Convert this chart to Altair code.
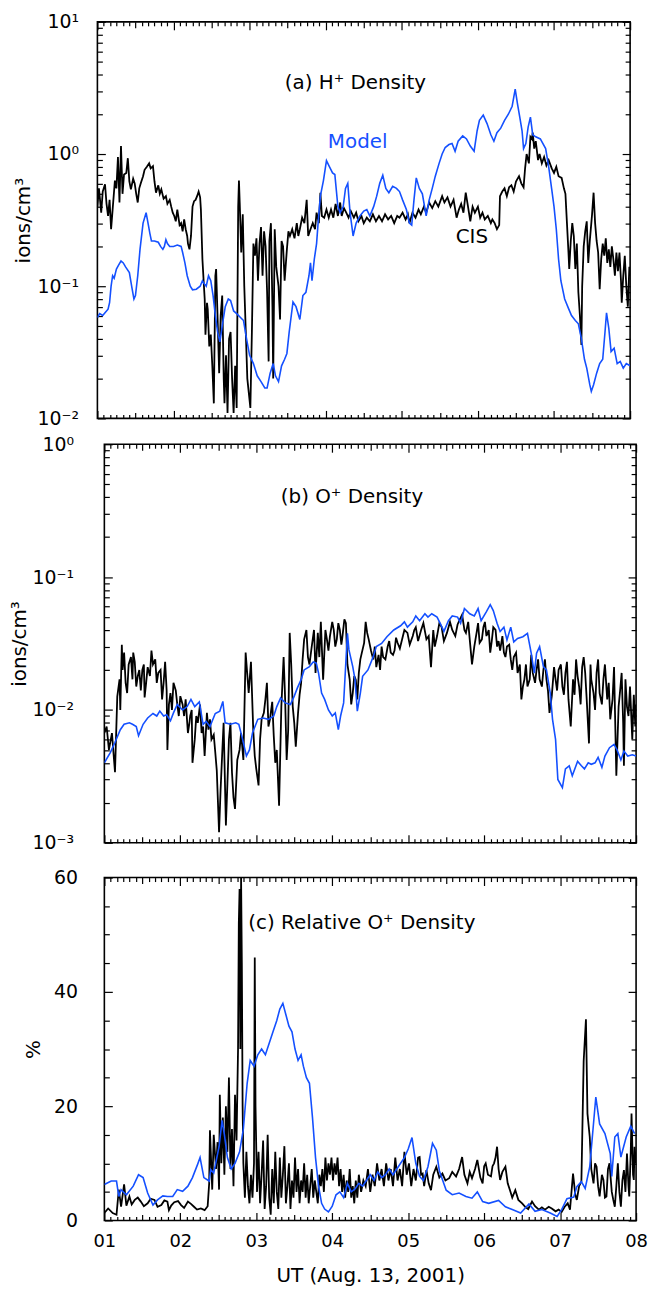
import altair as alt
import pandas as pd

FONT = "DejaVu Sans"
BLUE = "#1450ff"

# ---------------- measurements: (UT hour, value) ----------------
# (a) H+ density, ions/cm^3
h_cis = [
    (1.00, 0.40), (1.02, 0.55), (1.03, 0.48), (1.05, 0.36), (1.07, 0.52), (1.10, 0.59),
    (1.12, 0.42), (1.14, 0.34), (1.16, 0.45), (1.18, 0.27), (1.20, 0.38), (1.23, 0.63),
    (1.25, 0.55), (1.27, 0.95), (1.29, 0.43), (1.31, 1.15), (1.33, 0.50), (1.35, 0.70),
    (1.38, 0.72), (1.40, 0.93), (1.42, 0.62), (1.44, 0.54), (1.47, 0.65), (1.49, 0.60),
    (1.51, 0.50), (1.53, 0.43), (1.55, 0.55), (1.57, 0.60), (1.60, 0.68), (1.62, 0.76),
    (1.65, 0.80), (1.68, 0.85), (1.70, 0.78), (1.73, 0.81), (1.75, 0.62), (1.77, 0.51),
    (1.80, 0.58), (1.82, 0.50), (1.84, 0.54), (1.87, 0.46), (1.90, 0.48), (1.92, 0.42),
    (1.95, 0.45), (1.97, 0.40), (1.99, 0.36), (2.01, 0.34), (2.03, 0.31), (2.05, 0.38),
    (2.08, 0.29), (2.10, 0.30), (2.12, 0.26), (2.14, 0.32), (2.16, 0.27), (2.18, 0.24),
    (2.19, 0.21), (2.21, 0.19), (2.23, 0.24), (2.25, 0.40), (2.27, 0.44), (2.29, 0.45),
    (2.31, 0.48), (2.33, 0.52), (2.35, 0.47), (2.36, 0.38), (2.38, 0.16), (2.40, 0.10),
    (2.41, 0.08), (2.42, 0.043), (2.44, 0.075), (2.45, 0.067), (2.47, 0.035), (2.49, 0.043),
    (2.51, 0.025), (2.53, 0.013), (2.55, 0.12), (2.56, 0.135), (2.58, 0.056), (2.60, 0.022),
    (2.62, 0.06), (2.64, 0.085), (2.66, 0.02), (2.67, 0.013), (2.69, 0.03), (2.71, 0.011),
    (2.73, 0.04), (2.75, 0.045), (2.77, 0.02), (2.79, 0.011), (2.81, 0.025), (2.83, 0.012),
    (2.85, 0.40), (2.86, 0.63), (2.87, 0.43), (2.89, 0.18), (2.91, 0.35), (2.93, 0.10),
    (2.95, 0.045), (2.97, 0.02), (3.01, 0.012), (3.03, 0.045), (3.05, 0.21), (3.07, 0.17),
    (3.09, 0.23), (3.11, 0.11), (3.13, 0.21), (3.15, 0.28), (3.17, 0.12), (3.19, 0.26),
    (3.21, 0.20), (3.23, 0.09), (3.25, 0.027), (3.26, 0.22), (3.28, 0.30), (3.30, 0.07),
    (3.31, 0.02), (3.33, 0.27), (3.35, 0.14), (3.38, 0.10), (3.40, 0.056), (3.42, 0.22),
    (3.44, 0.20), (3.46, 0.11), (3.49, 0.19), (3.51, 0.26), (3.53, 0.24), (3.56, 0.27),
    (3.59, 0.23), (3.62, 0.30), (3.64, 0.24), (3.66, 0.27), (3.69, 0.33), (3.72, 0.30),
    (3.75, 0.45), (3.77, 0.24), (3.80, 0.27), (3.83, 0.30), (3.86, 0.27), (3.88, 0.36),
    (3.91, 0.30), (3.93, 0.51), (3.95, 0.34), (3.98, 0.33), (4.01, 0.38), (4.04, 0.33),
    (4.07, 0.38), (4.10, 0.33), (4.13, 0.42), (4.16, 0.34), (4.19, 0.43), (4.21, 0.34),
    (4.24, 0.39), (4.27, 0.36), (4.30, 0.33), (4.33, 0.37), (4.37, 0.33), (4.40, 0.36),
    (4.43, 0.31), (4.47, 0.34), (4.50, 0.30), (4.54, 0.33), (4.58, 0.31), (4.62, 0.35),
    (4.66, 0.31), (4.70, 0.34), (4.74, 0.31), (4.78, 0.35), (4.82, 0.32), (4.86, 0.34),
    (4.90, 0.30), (4.94, 0.34), (4.97, 0.33), (5.01, 0.36), (5.05, 0.32), (5.08, 0.35),
    (5.10, 0.30), (5.14, 0.36), (5.18, 0.33), (5.22, 0.38), (5.25, 0.35), (5.29, 0.40),
    (5.32, 0.36), (5.36, 0.43), (5.40, 0.39), (5.44, 0.44), (5.48, 0.40), (5.53, 0.48),
    (5.56, 0.43), (5.60, 0.47), (5.64, 0.40), (5.68, 0.45), (5.72, 0.33), (5.75, 0.38),
    (5.78, 0.42), (5.81, 0.36), (5.84, 0.51), (5.87, 0.40), (5.90, 0.31), (5.93, 0.40),
    (5.96, 0.36), (6.00, 0.40), (6.03, 0.33), (6.06, 0.36), (6.09, 0.32), (6.13, 0.34),
    (6.17, 0.30), (6.19, 0.32), (6.22, 0.30), (6.25, 0.27), (6.28, 0.29), (6.29, 0.48),
    (6.32, 0.52), (6.35, 0.55), (6.38, 0.48), (6.41, 0.56), (6.44, 0.58), (6.47, 0.52),
    (6.50, 0.62), (6.54, 0.68), (6.57, 0.60), (6.60, 0.56), (6.62, 0.78), (6.64, 1.00),
    (6.67, 0.85), (6.69, 1.35), (6.71, 1.30), (6.72, 1.45), (6.74, 1.10), (6.76, 1.25),
    (6.79, 0.90), (6.81, 1.00), (6.84, 0.85), (6.87, 0.95), (6.90, 0.82), (6.93, 0.90),
    (6.97, 0.78), (7.00, 0.72), (7.03, 0.80), (7.06, 0.68), (7.10, 0.66), (7.13, 0.55),
    (7.15, 0.50), (7.17, 0.30), (7.19, 0.18), (7.20, 0.135), (7.22, 0.22), (7.24, 0.30),
    (7.26, 0.24), (7.28, 0.135), (7.30, 0.21), (7.32, 0.09), (7.34, 0.06), (7.36, 0.036),
    (7.37, 0.10), (7.39, 0.20), (7.41, 0.26), (7.43, 0.31), (7.45, 0.15), (7.47, 0.22),
    (7.50, 0.35), (7.52, 0.51), (7.54, 0.30), (7.56, 0.22), (7.58, 0.18), (7.60, 0.095),
    (7.62, 0.16), (7.64, 0.21), (7.66, 0.17), (7.68, 0.23), (7.70, 0.15), (7.72, 0.19),
    (7.74, 0.14), (7.76, 0.20), (7.78, 0.16), (7.80, 0.12), (7.82, 0.18), (7.84, 0.13),
    (7.86, 0.18), (7.88, 0.11), (7.89, 0.075), (7.91, 0.12), (7.93, 0.17), (7.95, 0.10),
    (7.97, 0.07), (7.99, 0.14), (8.00, 0.12),
]
h_model = [
    (1.00, 0.058), (1.03, 0.062), (1.07, 0.060), (1.10, 0.063), (1.14, 0.067), (1.16, 0.075),
    (1.18, 0.10), (1.20, 0.12), (1.22, 0.115), (1.25, 0.135), (1.28, 0.145), (1.31, 0.155),
    (1.34, 0.15), (1.37, 0.14), (1.42, 0.127), (1.45, 0.10), (1.48, 0.08), (1.50, 0.085),
    (1.53, 0.12), (1.56, 0.19), (1.60, 0.30), (1.64, 0.36), (1.67, 0.29), (1.69, 0.25),
    (1.71, 0.22), (1.75, 0.22), (1.80, 0.215), (1.83, 0.20), (1.86, 0.19), (1.88, 0.20),
    (1.90, 0.225), (1.92, 0.21), (1.95, 0.20), (2.00, 0.20), (2.05, 0.205), (2.10, 0.20),
    (2.12, 0.18), (2.15, 0.15), (2.18, 0.12), (2.22, 0.10), (2.25, 0.094), (2.30, 0.095),
    (2.35, 0.10), (2.38, 0.11), (2.40, 0.105), (2.43, 0.10), (2.46, 0.12), (2.49, 0.11),
    (2.52, 0.085), (2.55, 0.06), (2.58, 0.045), (2.61, 0.038), (2.64, 0.05), (2.68, 0.07),
    (2.72, 0.08), (2.75, 0.078), (2.79, 0.065), (2.83, 0.062), (2.88, 0.058), (2.92, 0.055),
    (2.96, 0.04), (3.00, 0.03), (3.05, 0.026), (3.10, 0.021), (3.15, 0.019), (3.20, 0.017),
    (3.23, 0.017), (3.27, 0.022), (3.31, 0.026), (3.34, 0.021), (3.38, 0.019), (3.42, 0.025),
    (3.46, 0.028), (3.49, 0.031), (3.52, 0.045), (3.57, 0.076), (3.61, 0.070), (3.66, 0.056),
    (3.70, 0.085), (3.74, 0.09), (3.78, 0.12), (3.80, 0.15), (3.82, 0.11), (3.85, 0.16),
    (3.88, 0.21), (3.90, 0.30), (3.93, 0.48), (3.97, 0.63), (4.01, 0.89), (4.05, 0.80),
    (4.09, 0.72), (4.12, 0.70), (4.16, 0.40), (4.19, 0.36), (4.23, 0.40), (4.26, 0.55),
    (4.29, 0.60), (4.32, 0.36), (4.36, 0.24), (4.40, 0.30), (4.45, 0.34), (4.50, 0.37),
    (4.54, 0.38), (4.58, 0.34), (4.63, 0.40), (4.67, 0.48), (4.71, 0.60), (4.75, 0.69),
    (4.79, 0.55), (4.83, 0.51), (4.88, 0.57), (4.93, 0.55), (4.97, 0.52), (5.01, 0.45),
    (5.06, 0.38), (5.10, 0.30), (5.13, 0.29), (5.16, 0.45), (5.19, 0.66), (5.23, 0.55),
    (5.27, 0.50), (5.32, 0.34), (5.36, 0.45), (5.40, 0.55), (5.44, 0.68), (5.49, 0.85),
    (5.53, 1.00), (5.57, 1.12), (5.62, 1.18), (5.66, 1.20), (5.70, 1.05), (5.74, 1.25),
    (5.80, 1.37), (5.85, 1.30), (5.90, 1.15), (5.95, 1.05), (5.99, 1.50), (6.02, 1.80),
    (6.07, 1.97), (6.12, 1.70), (6.17, 1.40), (6.21, 1.25), (6.25, 1.45), (6.30, 1.57),
    (6.35, 1.80), (6.40, 2.00), (6.45, 2.30), (6.49, 3.10), (6.52, 2.40), (6.55, 1.90),
    (6.58, 1.50), (6.60, 1.10), (6.63, 1.20), (6.66, 1.60), (6.69, 1.90), (6.72, 1.40),
    (6.76, 1.35), (6.82, 1.30), (6.89, 1.10), (6.93, 0.80), (6.97, 0.54), (7.00, 0.40),
    (7.03, 0.27), (7.06, 0.16), (7.09, 0.11), (7.14, 0.08), (7.19, 0.068), (7.23, 0.06),
    (7.28, 0.055), (7.32, 0.052), (7.36, 0.04), (7.40, 0.028), (7.43, 0.024), (7.47, 0.018),
    (7.49, 0.016), (7.52, 0.018), (7.56, 0.022), (7.60, 0.026), (7.64, 0.028), (7.67, 0.045),
    (7.69, 0.063), (7.72, 0.048), (7.75, 0.032), (7.79, 0.034), (7.83, 0.026), (7.87, 0.027),
    (7.91, 0.024), (7.95, 0.026), (8.00, 0.025),
]

# (b) O+ density, ions/cm^3
o_cis = [
    (1.00, 0.0067), (1.03, 0.0075), (1.06, 0.005), (1.10, 0.0067), (1.14, 0.0034), (1.17, 0.0126),
    (1.20, 0.017), (1.21, 0.010), (1.23, 0.031), (1.24, 0.020), (1.26, 0.027), (1.28, 0.016),
    (1.30, 0.0134), (1.32, 0.022), (1.35, 0.025), (1.37, 0.017), (1.38, 0.027), (1.40, 0.023),
    (1.42, 0.015), (1.44, 0.018), (1.46, 0.020), (1.48, 0.014), (1.50, 0.020), (1.52, 0.022),
    (1.53, 0.0124), (1.55, 0.016), (1.57, 0.021), (1.60, 0.018), (1.62, 0.028), (1.64, 0.022),
    (1.67, 0.024), (1.69, 0.016), (1.71, 0.019), (1.74, 0.020), (1.76, 0.012), (1.78, 0.016),
    (1.80, 0.023), (1.82, 0.014), (1.83, 0.005), (1.85, 0.011), (1.87, 0.0134), (1.89, 0.010),
    (1.91, 0.016), (1.94, 0.014), (1.96, 0.011), (1.98, 0.009), (2.00, 0.0127), (2.03, 0.011),
    (2.05, 0.009), (2.07, 0.012), (2.10, 0.0067), (2.12, 0.008), (2.13, 0.009), (2.15, 0.010),
    (2.16, 0.004), (2.19, 0.006), (2.21, 0.009), (2.23, 0.008), (2.26, 0.011), (2.28, 0.0067),
    (2.30, 0.0075), (2.32, 0.0045), (2.35, 0.0095), (2.37, 0.0071), (2.39, 0.0085), (2.41, 0.006),
    (2.44, 0.0065), (2.46, 0.0048), (2.48, 0.0035), (2.51, 0.0012), (2.53, 0.0025), (2.55, 0.0045),
    (2.57, 0.008), (2.60, 0.00135), (2.62, 0.0028), (2.64, 0.006), (2.66, 0.008), (2.68, 0.0034),
    (2.70, 0.0022), (2.72, 0.0018), (2.75, 0.0042), (2.78, 0.005), (2.80, 0.0067), (2.83, 0.0042),
    (2.86, 0.027), (2.88, 0.019), (2.90, 0.0134), (2.93, 0.023), (2.96, 0.0071), (2.98, 0.0045),
    (3.00, 0.0036), (3.03, 0.0027), (3.05, 0.006), (3.07, 0.0085), (3.10, 0.0095), (3.12, 0.012),
    (3.14, 0.016), (3.16, 0.0075), (3.18, 0.0085), (3.21, 0.0115), (3.23, 0.0064), (3.25, 0.004),
    (3.27, 0.005), (3.30, 0.0019), (3.33, 0.0106), (3.36, 0.025), (3.38, 0.012), (3.40, 0.0042),
    (3.42, 0.007), (3.44, 0.038), (3.46, 0.022), (3.48, 0.0106), (3.50, 0.008), (3.52, 0.0053),
    (3.55, 0.0095), (3.57, 0.013), (3.59, 0.0159), (3.61, 0.024), (3.63, 0.034), (3.66, 0.040),
    (3.68, 0.025), (3.70, 0.022), (3.73, 0.030), (3.76, 0.040), (3.78, 0.019), (3.81, 0.038),
    (3.83, 0.025), (3.85, 0.046), (3.88, 0.0169), (3.91, 0.040), (3.93, 0.034), (3.95, 0.028),
    (3.97, 0.036), (4.00, 0.046), (4.02, 0.040), (4.04, 0.030), (4.06, 0.034), (4.08, 0.045),
    (4.10, 0.040), (4.12, 0.031), (4.13, 0.034), (4.16, 0.048), (4.18, 0.045), (4.20, 0.022),
    (4.23, 0.0169), (4.25, 0.011), (4.27, 0.0134), (4.29, 0.018), (4.31, 0.0169), (4.33, 0.012),
    (4.35, 0.019), (4.37, 0.024), (4.39, 0.027), (4.42, 0.032), (4.44, 0.046), (4.46, 0.038),
    (4.48, 0.034), (4.51, 0.028), (4.54, 0.024), (4.56, 0.030), (4.58, 0.021), (4.61, 0.026),
    (4.63, 0.020), (4.65, 0.030), (4.67, 0.025), (4.70, 0.024), (4.73, 0.030), (4.75, 0.033),
    (4.77, 0.027), (4.80, 0.026), (4.82, 0.028), (4.84, 0.035), (4.86, 0.032), (4.89, 0.029),
    (4.92, 0.034), (4.95, 0.040), (4.99, 0.038), (5.02, 0.031), (5.06, 0.036), (5.08, 0.040),
    (5.10, 0.042), (5.13, 0.033), (5.17, 0.040), (5.20, 0.045), (5.24, 0.034), (5.27, 0.036),
    (5.30, 0.021), (5.33, 0.040), (5.35, 0.030), (5.38, 0.036), (5.41, 0.045), (5.44, 0.042),
    (5.47, 0.033), (5.51, 0.038), (5.55, 0.046), (5.58, 0.040), (5.62, 0.036), (5.65, 0.044),
    (5.68, 0.048), (5.71, 0.052), (5.74, 0.040), (5.76, 0.038), (5.79, 0.046), (5.81, 0.034),
    (5.84, 0.022), (5.87, 0.030), (5.90, 0.038), (5.92, 0.045), (5.94, 0.032), (5.97, 0.034),
    (5.99, 0.042), (6.01, 0.046), (6.03, 0.036), (6.06, 0.040), (6.08, 0.027), (6.10, 0.033),
    (6.12, 0.042), (6.15, 0.040), (6.17, 0.030), (6.19, 0.033), (6.21, 0.028), (6.24, 0.036),
    (6.26, 0.027), (6.28, 0.025), (6.30, 0.030), (6.33, 0.031), (6.35, 0.024), (6.37, 0.020),
    (6.39, 0.025), (6.42, 0.027), (6.44, 0.019), (6.47, 0.022), (6.49, 0.012), (6.51, 0.015),
    (6.53, 0.017), (6.55, 0.022), (6.57, 0.015), (6.60, 0.017), (6.62, 0.026), (6.64, 0.019),
    (6.67, 0.016), (6.69, 0.020), (6.71, 0.024), (6.73, 0.017), (6.76, 0.015), (6.78, 0.020),
    (6.80, 0.024), (6.82, 0.017), (6.84, 0.014), (6.86, 0.0095), (6.89, 0.0127), (6.92, 0.021),
    (6.94, 0.017), (6.96, 0.014), (6.98, 0.020), (7.01, 0.022), (7.03, 0.015), (7.05, 0.013),
    (7.07, 0.019), (7.09, 0.023), (7.11, 0.012), (7.14, 0.0075), (7.17, 0.017), (7.19, 0.013),
    (7.21, 0.024), (7.23, 0.018), (7.25, 0.015), (7.27, 0.011), (7.29, 0.021), (7.31, 0.025),
    (7.33, 0.019), (7.35, 0.012), (7.38, 0.0056), (7.40, 0.022), (7.41, 0.017), (7.44, 0.0134),
    (7.46, 0.010), (7.48, 0.019), (7.50, 0.024), (7.52, 0.0134), (7.55, 0.011), (7.57, 0.017),
    (7.59, 0.022), (7.62, 0.012), (7.64, 0.016), (7.66, 0.0085), (7.69, 0.012), (7.71, 0.021),
    (7.74, 0.0032), (7.77, 0.0106), (7.79, 0.014), (7.81, 0.019), (7.83, 0.008), (7.84, 0.0038),
    (7.86, 0.017), (7.88, 0.0106), (7.90, 0.009), (7.92, 0.015), (7.95, 0.0060), (7.97, 0.013),
    (7.99, 0.0075), (8.00, 0.011),
]
o_model = [
    (1.00, 0.0040), (1.08, 0.0048), (1.14, 0.0057), (1.21, 0.0071), (1.26, 0.0078), (1.33, 0.0080),
    (1.37, 0.0078), (1.42, 0.0075), (1.45, 0.0064), (1.51, 0.0078), (1.57, 0.0087), (1.64, 0.0094),
    (1.69, 0.0090), (1.73, 0.0098), (1.78, 0.0090), (1.82, 0.0092), (1.87, 0.0083), (1.91, 0.0095),
    (1.96, 0.0110), (2.03, 0.0100), (2.09, 0.0106), (2.14, 0.0120), (2.19, 0.0106), (2.25, 0.0115),
    (2.30, 0.0078), (2.34, 0.0082), (2.39, 0.0075), (2.46, 0.0094), (2.52, 0.0098), (2.56, 0.0116),
    (2.59, 0.0080), (2.66, 0.0078), (2.73, 0.0080), (2.77, 0.0078), (2.82, 0.0060), (2.87, 0.0045),
    (2.91, 0.0050), (2.95, 0.0067), (3.02, 0.0085), (3.09, 0.0087), (3.16, 0.0085), (3.23, 0.0090),
    (3.27, 0.0106), (3.32, 0.0123), (3.38, 0.0113), (3.45, 0.0110), (3.50, 0.0127), (3.54, 0.0146),
    (3.59, 0.0169), (3.63, 0.0200), (3.70, 0.0212), (3.75, 0.0230), (3.79, 0.0225), (3.82, 0.0189),
    (3.86, 0.0134), (3.90, 0.0120), (3.95, 0.0100), (4.00, 0.0090), (4.04, 0.0095), (4.08, 0.0071),
    (4.11, 0.0090), (4.15, 0.0113), (4.20, 0.0377), (4.22, 0.0283), (4.27, 0.0212), (4.30, 0.0169),
    (4.33, 0.0098), (4.37, 0.0134), (4.40, 0.0179), (4.47, 0.0200), (4.54, 0.0252), (4.58, 0.0300),
    (4.65, 0.0317), (4.72, 0.0356), (4.81, 0.0400), (4.90, 0.0430), (4.95, 0.0460), (4.99, 0.0420),
    (5.06, 0.0460), (5.10, 0.0510), (5.15, 0.0470), (5.22, 0.0530), (5.26, 0.0500), (5.31, 0.0530),
    (5.38, 0.0500), (5.42, 0.0450), (5.47, 0.0390), (5.53, 0.0470), (5.58, 0.0510), (5.65, 0.0500),
    (5.69, 0.0450), (5.74, 0.0580), (5.81, 0.0530), (5.87, 0.0510), (5.92, 0.0580), (5.96, 0.0470),
    (6.03, 0.0550), (6.08, 0.0620), (6.12, 0.0560), (6.17, 0.0450), (6.21, 0.0390), (6.26, 0.0420),
    (6.30, 0.0336), (6.35, 0.0420), (6.39, 0.0325), (6.44, 0.0345), (6.51, 0.0356), (6.57, 0.0377),
    (6.62, 0.0267), (6.66, 0.0189), (6.69, 0.0267), (6.73, 0.0300), (6.78, 0.0212), (6.82, 0.0200),
    (6.87, 0.0134), (6.90, 0.0085), (6.94, 0.0060), (6.97, 0.0030), (7.03, 0.0026), (7.07, 0.0036),
    (7.12, 0.0038), (7.16, 0.0032), (7.23, 0.0041), (7.28, 0.0038), (7.32, 0.0036), (7.37, 0.0040),
    (7.41, 0.0039), (7.46, 0.0040), (7.50, 0.0044), (7.55, 0.0037), (7.59, 0.0045), (7.65, 0.0052),
    (7.71, 0.0055), (7.75, 0.0050), (7.80, 0.0042), (7.84, 0.0049), (7.89, 0.0045), (7.95, 0.0046),
    (8.00, 0.0045),
]

# (c) relative O+ density, %
rel_cis = [
    (1.00, 1.3), (1.05, 2.1), (1.11, 1.3), (1.16, 1.0), (1.19, 5.4), (1.22, 2.4), (1.26, 6.3),
    (1.29, 2.6), (1.33, 4.2), (1.36, 2.8), (1.40, 3.6), (1.44, 4.0), (1.48, 3.3), (1.52, 2.5),
    (1.57, 3.0), (1.61, 3.8), (1.66, 3.6), (1.70, 2.4), (1.75, 2.7), (1.79, 3.5), (1.83, 3.3),
    (1.85, 1.8), (1.88, 2.6), (1.92, 3.2), (1.97, 3.4), (2.01, 2.7), (2.05, 2.2), (2.10, 3.3),
    (2.14, 2.9), (2.18, 2.4), (2.22, 1.9), (2.27, 2.1), (2.32, 1.8), (2.36, 2.5), (2.38, 6.5),
    (2.39, 15.8), (2.42, 5.4), (2.44, 15.0), (2.47, 9.0), (2.49, 13.7), (2.51, 5.4), (2.52, 22.0),
    (2.54, 10), (2.56, 18), (2.58, 8), (2.60, 20), (2.62, 12), (2.64, 25), (2.66, 9), (2.68, 16),
    (2.70, 6), (2.72, 22), (2.74, 14), (2.76, 30), (2.77, 52), (2.78, 58), (2.79, 30), (2.80, 60),
    (2.81, 45), (2.82, 20), (2.83, 10), (2.85, 4), (2.87, 12), (2.89, 6), (2.91, 3), (2.93, 8),
    (2.95, 4), (2.97, 10), (2.98, 46), (2.99, 20), (3.01, 5), (3.03, 12), (3.05, 3), (3.07, 8),
    (3.09, 14), (3.11, 2), (3.13, 6), (3.15, 15), (3.17, 4), (3.19, 1), (3.21, 9), (3.23, 3),
    (3.25, 12), (3.27, 5), (3.29, 2), (3.31, 11), (3.33, 4), (3.35, 8), (3.37, 13), (3.39, 3),
    (3.41, 6), (3.43, 10), (3.45, 2), (3.47, 7), (3.49, 4), (3.51, 11), (3.53, 5), (3.55, 9),
    (3.57, 3), (3.59, 7), (3.61, 5), (3.63, 10), (3.65, 4), (3.67, 8), (3.69, 3), (3.71, 6),
    (3.73, 9), (3.75, 4), (3.77, 7), (3.79, 5), (3.81, 3), (3.83, 8), (3.85, 6), (3.87, 9),
    (3.89, 5), (3.91, 11), (3.93, 7), (3.95, 10), (3.97, 8), (3.99, 11), (4.01, 7), (4.03, 10),
    (4.05, 8), (4.07, 11), (4.09, 6), (4.11, 9), (4.13, 5), (4.15, 8), (4.17, 4), (4.19, 7),
    (4.21, 5), (4.23, 9), (4.25, 4), (4.27, 6), (4.29, 3), (4.31, 7), (4.33, 4), (4.35, 8),
    (4.38, 5), (4.41, 7), (4.44, 6), (4.47, 9), (4.50, 5), (4.53, 8), (4.56, 6), (4.59, 10),
    (4.62, 7), (4.65, 9), (4.68, 6), (4.71, 10), (4.74, 7), (4.77, 9), (4.80, 6), (4.83, 11),
    (4.86, 7), (4.89, 9), (4.92, 6), (4.95, 12), (4.98, 8), (5.01, 10), (5.04, 6), (5.07, 9),
    (5.10, 7), (5.13, 11), (5.15, 11.1), (5.17, 8.0), (5.19, 8.2), (5.21, 6.0), (5.24, 8.8),
    (5.27, 6.5), (5.30, 5.3), (5.33, 8.0), (5.37, 9.4), (5.41, 7.5), (5.45, 8.2), (5.49, 7.0),
    (5.54, 7.4), (5.58, 8.5), (5.63, 7.7), (5.67, 9.0), (5.71, 11.1), (5.74, 8.0), (5.78, 6.5),
    (5.81, 8.5), (5.84, 7.4), (5.88, 9.0), (5.91, 10.6), (5.95, 7.5), (5.98, 6.5), (6.00, 9.5),
    (6.02, 10.0), (6.05, 8.0), (6.09, 7.7), (6.11, 9.5), (6.13, 10.0), (6.15, 11.0), (6.17, 12.9),
    (6.19, 9.0), (6.21, 7.1), (6.24, 8.5), (6.28, 9.4), (6.31, 6.5), (6.34, 5.3), (6.37, 4.0),
    (6.41, 5.3), (6.45, 3.6), (6.50, 3.0), (6.54, 2.4), (6.58, 2.0), (6.63, 3.3), (6.67, 2.5),
    (6.72, 1.9), (6.76, 2.3), (6.80, 1.9), (6.85, 2.4), (6.89, 2.1), (6.94, 1.6), (6.98, 1.9),
    (7.02, 1.5), (7.06, 2.4), (7.10, 3.0), (7.13, 1.9), (7.17, 8.2), (7.20, 4.5), (7.22, 3.6),
    (7.25, 6.0), (7.28, 6.8), (7.31, 27.9), (7.34, 35.2), (7.36, 18.7), (7.39, 14.6), (7.41, 9.0),
    (7.44, 6.5), (7.46, 10.0), (7.48, 9.4), (7.50, 6.0), (7.52, 4.2), (7.55, 8.0), (7.57, 7.1),
    (7.59, 4.0), (7.61, 4.2), (7.63, 9.0), (7.65, 10.0), (7.68, 5.0), (7.70, 3.6), (7.72, 2.4),
    (7.74, 6.0), (7.76, 10.0), (7.78, 5.0), (7.80, 2.4), (7.82, 7.0), (7.84, 8.8), (7.86, 5.0),
    (7.88, 11.7), (7.90, 6.0), (7.91, 4.2), (7.93, 12.0), (7.94, 18.7), (7.96, 8.0), (7.97, 7.1),
    (7.98, 12.9), (8.00, 10.0),
]
rel_model = [
    (1.00, 6.3), (1.09, 6.9), (1.16, 6.9), (1.19, 4.2), (1.22, 5.4), (1.29, 4.5), (1.38, 6.0),
    (1.45, 8.0), (1.51, 7.5), (1.57, 4.8), (1.64, 2.7), (1.70, 3.6), (1.77, 4.3), (1.83, 4.2),
    (1.90, 4.2), (1.96, 5.4), (2.03, 5.1), (2.10, 6.0), (2.16, 7.5), (2.23, 9.9), (2.26, 11.0),
    (2.31, 7.5), (2.38, 6.9), (2.40, 8.9), (2.44, 8.3), (2.51, 12.9), (2.55, 17.5), (2.58, 15.0),
    (2.62, 11.0), (2.67, 9.0), (2.72, 10.0), (2.78, 12.0), (2.83, 16.0), (2.88, 24.0), (2.92, 28.0),
    (2.97, 27.0), (3.02, 29.0), (3.07, 30.0), (3.12, 29.0), (3.17, 31.0), (3.22, 33.0), (3.27, 35.0),
    (3.31, 37.0), (3.35, 38.0), (3.39, 36.0), (3.43, 34.0), (3.47, 33.0), (3.51, 30.0), (3.55, 28.0),
    (3.59, 29.0), (3.62, 27.0), (3.66, 25.0), (3.70, 24.0), (3.74, 18.0), (3.78, 11.0), (3.82, 6.0),
    (3.86, 3.0), (3.90, 2.0), (3.95, 1.5), (4.00, 2.5), (4.05, 4.5), (4.10, 5.0), (4.15, 4.0),
    (4.20, 6.5), (4.25, 5.0), (4.30, 5.5), (4.35, 6.5), (4.40, 6.0), (4.45, 7.0), (4.50, 8.0),
    (4.55, 7.0), (4.60, 8.5), (4.65, 7.5), (4.70, 8.0), (4.75, 9.0), (4.80, 8.0), (4.85, 9.0),
    (4.90, 10.0), (4.95, 11.0), (5.00, 12.5), (5.05, 14.5), (5.10, 10.0), (5.15, 7.7), (5.20, 7.0),
    (5.26, 9.4), (5.32, 13.5), (5.37, 12.3), (5.41, 8.7), (5.50, 5.3), (5.58, 4.5), (5.67, 4.8),
    (5.76, 4.2), (5.84, 3.9), (5.91, 5.0), (5.98, 3.3), (6.06, 3.0), (6.19, 3.5), (6.28, 2.4),
    (6.37, 1.9), (6.48, 1.3), (6.59, 2.9), (6.67, 1.6), (6.76, 1.9), (6.87, 1.3), (6.96, 0.7),
    (7.02, 1.9), (7.09, 3.8), (7.18, 4.1), (7.22, 5.9), (7.28, 6.8), (7.33, 5.6), (7.39, 9.4),
    (7.47, 21.6), (7.52, 16.9), (7.59, 15.2), (7.66, 11.7), (7.68, 7.7), (7.72, 14.6), (7.76, 15.2),
    (7.80, 11.1), (7.87, 14.6), (7.93, 16.5), (7.98, 15.2),
]

# ---------------- axes ----------------
hours = [1, 2, 3, 4, 5, 6, 7, 8]
hour_labels = ["01", "02", "03", "04", "05", "06", "07", "08"]

h_range = [0.01, 10]
h_decades = [0.01, 0.1, 1, 10]
h_decade_labels = ["10⁻²", "10⁻¹", "10⁰", "10¹"]
o_range = [0.001, 1]
o_decades = [0.001, 0.01, 0.1, 1]
o_decade_labels = ["10⁻³", "10⁻²", "10⁻¹", "10⁰"]
rel_range = [0, 60]
rel_major = [0, 20, 40, 60]
rel_major_labels = ["0", "20", "40", "60"]
rel_minor = [5, 10, 15, 25, 30, 35, 45, 50, 55]

# captions inside the panels: (UT hour, value, text)
h_title = [(4.39, 3.1, "(a) H⁺ Density")]
h_model_tag = [(4.42, 1.11, "Model")]
h_cis_tag = [(5.92, 0.214, "CIS")]
o_title = [(4.26, 0.363, "(b) O⁺ Density")]
rel_title = [(4.39, 51.0, "(c) Relative O⁺ Density")]

half_hours = [h + 0.5 for h in hours[:-1]]
five_min = [hours[0] + k / 12 for k in range(1, 12 * (len(hours) - 1)) if k % 6]


def log_minor(decades):
    return [m * d for d in decades[:-1] for m in range(2, 10)]


def lookup_expr(values, labels):
    parts = [f"abs(datum.value - ({v})) < {abs(v) * 1e-6 + 1e-12} ? '{l}'"
             for v, l in zip(values, labels)]
    return " : ".join(parts) + " : ''"


def series_frame(cis, model):
    rows = [{"t": t, "v": v, "s": "CIS"} for t, v in sorted(cis)]
    rows += [{"t": t, "v": v, "s": "Model"} for t, v in sorted(model)]
    return pd.DataFrame(rows)


def note_frame(notes):
    return pd.DataFrame([{"t": t, "v": v, "text": s} for t, v, s in notes])


def tick_axis(orient, offset, values, size):
    return alt.Axis(orient=orient, offset=offset, values=values, ticks=True,
                    tickSize=size, tickColor="black", tickWidth=1.2,
                    labels=False, domain=False, grid=False, title=None)


def make_panel(cis, model, dom, log, major, major_labels, minor, ytitle,
               notes, width, height, label_pad, title_pad, xtitle=None):
    df = series_frame(cis, model)
    corners = pd.DataFrame({"t": [hours[0], hours[-1]], "v": dom})
    xs = alt.Scale(domain=[hours[0], hours[-1]], nice=False, zero=False)
    if log:
        ys = alt.Scale(type="log", domain=dom, nice=False)
    else:
        ys = alt.Scale(domain=dom, nice=False, zero=False)

    ylab = alt.Axis(orient="left", values=major,
                    labelExpr=lookup_expr(major, major_labels),
                    ticks=False, tickSize=0, domain=False, grid=False,
                    labelFontSize=19, labelPadding=label_pad,
                    labelFlush=False, labelOverlap=False,
                    title=ytitle, titleFontSize=20, titleFontWeight="normal",
                    titlePadding=title_pad)
    if xtitle:
        xlab = alt.Axis(orient="bottom", values=hours,
                        labelExpr=lookup_expr(hours, hour_labels),
                        ticks=False, tickSize=0, domain=False, grid=False,
                        labelFontSize=18, labelPadding=12, labelFlush=False,
                        labelOverlap=False,
                        title=xtitle, titleFontSize=20, titleFontWeight="normal",
                        titlePadding=15)
    else:
        xlab = None

    def enc(ch, xaxis, yaxis):
        return ch.encode(x=alt.X("t:Q", scale=xs, axis=xaxis),
                         y=alt.Y("v:Q", scale=ys, axis=yaxis))

    black = enc(alt.Chart(df).transform_filter(alt.datum.s == "CIS")
                .mark_line(color="black", strokeWidth=1.8, clip=True), xlab, ylab)
    blue = enc(alt.Chart(df).transform_filter(alt.datum.s == "Model")
               .mark_line(color=BLUE, strokeWidth=1.6, clip=True),
               tick_axis("top", -height, hours, 8),
               tick_axis("right", -width, major, 8))

    def ghost(xaxis, yaxis):
        return enc(alt.Chart(corners).mark_point(opacity=0), xaxis, yaxis)

    layers = [
        black, blue,
        ghost(tick_axis("top", -height, half_hours, 6), tick_axis("right", -width, minor, 5)),
        ghost(tick_axis("top", -height, five_min, 4), tick_axis("left", -width, major, 8)),
        ghost(tick_axis("bottom", -height, hours, 8), tick_axis("left", -width, minor, 5)),
        ghost(tick_axis("bottom", -height, half_hours, 6), None),
        ghost(tick_axis("bottom", -height, five_min, 4), None),
    ]
    for rows, color in notes:
        layers.append(enc(alt.Chart(note_frame(rows)).mark_text(
            font=FONT, fontSize=20, align="center", baseline="alphabetic", color=color
        ).encode(text="text:N"), None, None))

    return alt.layer(*layers).properties(width=width, height=height).resolve_axis(
        x="independent", y="independent")


panel_a = make_panel(h_cis, h_model, h_range, True, h_decades, h_decade_labels,
                     log_minor(h_decades), "ions/cm³",
                     [(h_title, "black"), (h_model_tag, BLUE), (h_cis_tag, "black")],
                     536, 399, 19, 3)
panel_b = make_panel(o_cis, o_model, o_range, True, o_decades, o_decade_labels,
                     log_minor(o_decades), "ions/cm³", [(o_title, "black")],
                     535, 401, 31, 3)
panel_c = make_panel(rel_cis, rel_model, rel_range, False, rel_major, rel_major_labels,
                     rel_minor, "%", [(rel_title, "black")],
                     535, 345, 27, 10, xtitle="UT (Aug. 13, 2001)")

spacer = alt.Chart(pd.DataFrame({"t": [0]})).mark_point(opacity=0).encode(
    x=alt.X("t:Q", axis=None)
).properties(width=7, height=1, view=alt.ViewBackground(stroke="transparent"))

lower = alt.hconcat(spacer, alt.vconcat(panel_b, panel_c, spacing=35, bounds="flush"),
                    spacing=0, bounds="flush")

chart = alt.vconcat(panel_a, lower, spacing=26, bounds="flush").properties(
    padding={"left": 8, "top": 8, "right": 0, "bottom": 2}
).configure(font=FONT).configure_view(
    stroke="black", strokeWidth=1.6
).configure_axis(
    labelFont=FONT, titleFont=FONT, labelColor="black", titleColor="black"
)

chart.save("out.html", embed_options={"renderer": "svg", "actions": False})
